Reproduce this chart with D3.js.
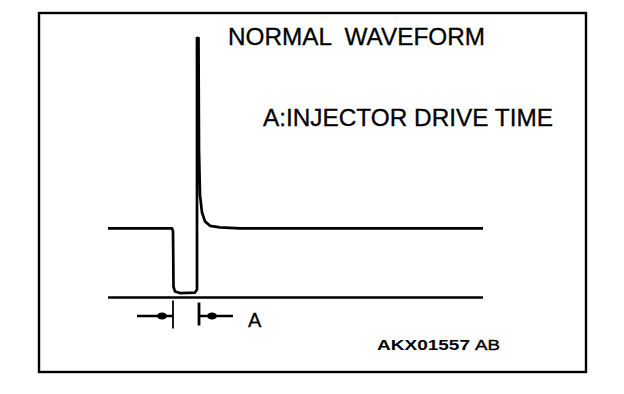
<!DOCTYPE html>
<html>
<head>
<meta charset="utf-8">
<script src="https://cdn.jsdelivr.net/npm/d3@7/dist/d3.min.js"></script>
<style>
  html, body { margin: 0; padding: 0; background: #fff; }
  svg { display: block; }
  text { font-family: "Liberation Sans", Arial, Helvetica, sans-serif; fill: #000; white-space: pre; }
</style>
</head>
<body>
<svg id="chart" width="624" height="394"></svg>
<script>
// ---- Data (time in arbitrary units, voltage in V) ----
const waveTime = [0, 12.8, 13.0, 13.1, 13.4, 14.4, 17.4, 17.8, 17.8, 18.1, 18.2, 18.4, 18.8, 19.4, 20.4, 22.4, 26.4, 75];
const waveVolt = [14, 14, 13.4, 2.2, 1.2, 0.9, 1.0, 1.6, 52.5, 52.5, 29.8, 20.7, 17.2, 15.4, 14.5, 14.2, 14.0, 14];
const baselineTime = [0, 75];
const driveStart = 13.0;   // injector drive time start
const driveEnd = 18.2;     // injector drive time end
const titleText = "NORMAL  WAVEFORM";
const legendText = "A:INJECTOR DRIVE TIME";
const markerLabel = "A";
const codeText = "AKX01557";
const codeSuffix = "AB";

const svg = d3.select("#chart");

// frame
svg.append("rect")
  .attr("x", 39).attr("y", 13).attr("width", 547).attr("height", 359)
  .attr("fill", "none").attr("stroke", "#000").attr("stroke-width", 2.4);

const x = d3.scaleLinear().domain([0, 75]).range([108, 483]);
const y = d3.scaleLinear().domain([0, 52.5]).range([297.5, 38]);

const pts = waveTime.map((t, i) => [t, waveVolt[i]]);
const line = d3.line().x(d => x(d[0])).y(d => y(d[1]));

// baseline (0 V)
svg.append("path")
  .attr("d", line(baselineTime.map(t => [t, 0])))
  .attr("fill", "none").attr("stroke", "#000").attr("stroke-width", 2.7);

// waveform
svg.append("path")
  .attr("d", line(pts))
  .attr("fill", "none").attr("stroke", "#000").attr("stroke-width", 2.7)
  .attr("stroke-linejoin", "round");

// drive time marker
const y0 = y(0);
const xs = x(driveStart), xe = x(driveEnd);
const arrowY = y0 + 18.5;
const g = svg.append("g");
g.append("line").attr("x1", xs).attr("x2", xs).attr("y1", y0 + 3).attr("y2", y0 + 31)
  .attr("stroke", "#000").attr("stroke-width", 1.8);
g.append("line").attr("x1", xe).attr("x2", xe).attr("y1", y0 + 5).attr("y2", y0 + 28)
  .attr("stroke", "#000").attr("stroke-width", 2.8);
g.append("line").attr("x1", xs - 36).attr("x2", xs).attr("y1", arrowY).attr("y2", arrowY)
  .attr("stroke", "#000").attr("stroke-width", 2.6);
g.append("line").attr("x1", xe).attr("x2", xe + 34).attr("y1", arrowY).attr("y2", arrowY)
  .attr("stroke", "#000").attr("stroke-width", 2.6);
g.append("ellipse").attr("cx", xs - 11).attr("cy", arrowY).attr("rx", 5).attr("ry", 3.5).attr("fill", "#000");
g.append("ellipse").attr("cx", xe + 13).attr("cy", arrowY).attr("rx", 5).attr("ry", 3.5).attr("fill", "#000");
g.append("text").attr("x", xe + 49).attr("y", y0 + 29.5)
  .attr("font-size", 20).style("stroke", "#000").style("stroke-width", 0.3).text(markerLabel);

// texts
svg.append("text").attr("x", 228).attr("y", 44.5)
  .attr("font-size", 23.5).attr("textLength", 257).attr("lengthAdjust", "spacingAndGlyphs")
  .style("stroke", "#000").style("stroke-width", 0.3)
  .text(titleText);
svg.append("text").attr("x", 263).attr("y", 125.5)
  .attr("font-size", 23.5).attr("textLength", 290).attr("lengthAdjust", "spacingAndGlyphs")
  .style("stroke", "#000").style("stroke-width", 0.3)
  .text(legendText);
svg.append("text").attr("x", 377).attr("y", 349.5)
  .attr("font-size", 15).attr("font-weight", "bold")
  .attr("textLength", 93).attr("lengthAdjust", "spacingAndGlyphs")
  .text(codeText);
svg.append("text").attr("x", 475).attr("y", 349.5)
  .attr("font-size", 15.5)
  .attr("textLength", 25).attr("lengthAdjust", "spacingAndGlyphs")
  .style("stroke", "#000").style("stroke-width", 0.4)
  .text(codeSuffix);
</script>
</body>
</html>
